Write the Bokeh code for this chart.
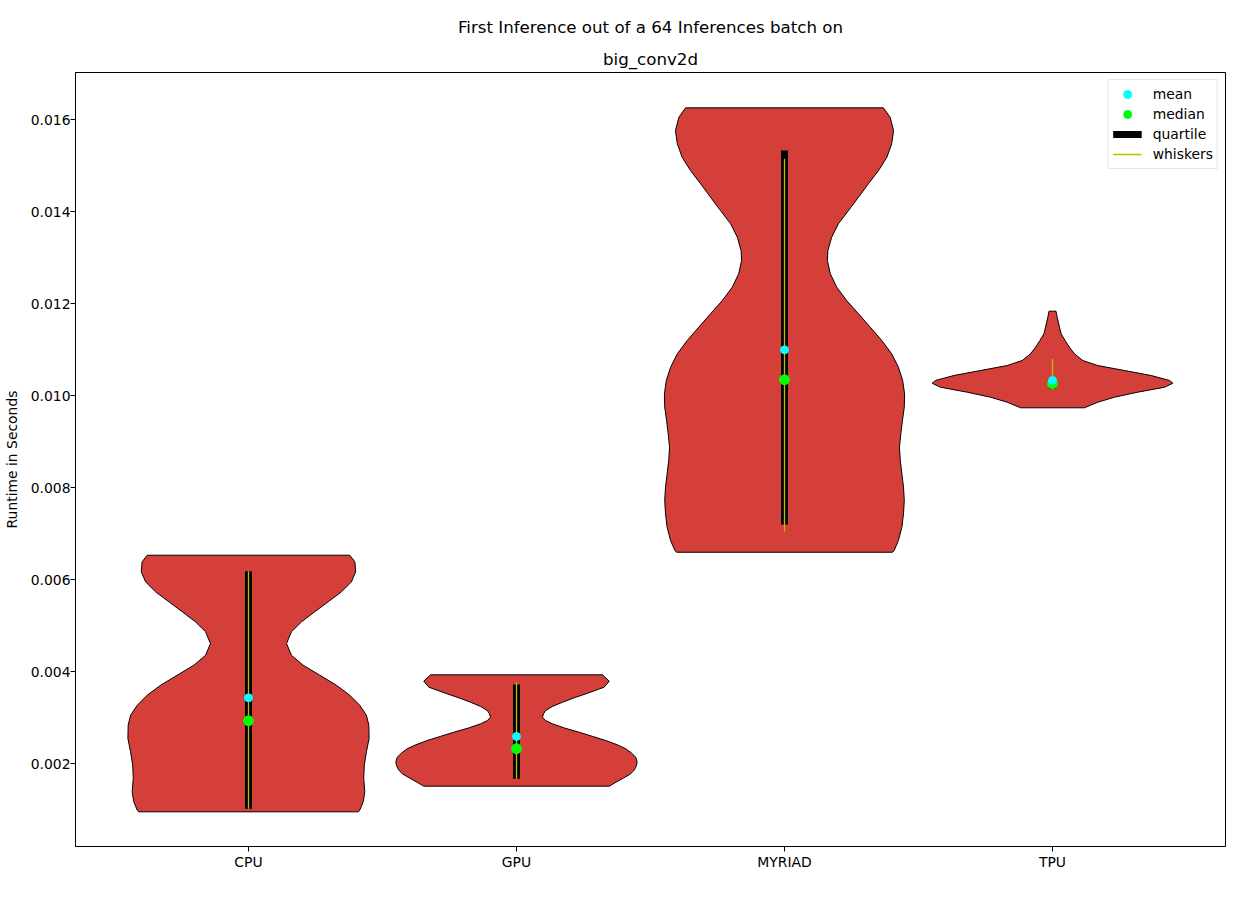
from bokeh.plotting import figure
from bokeh.models import (Legend, LegendItem, Title, FixedTicker, Range1d,
                          ColumnDataSource, NumeralTickFormatter)
from bokeh.embed import file_html
from bokeh.resources import INLINE

categories = ["CPU", "GPU", "MYRIAD", "TPU"]

# violin outlines: runtime values (s) and half-widths (category units)
cpu_y = [0.00095, 0.000985, 0.001167, 0.001385, 0.001674, 0.001963, 0.002254,
         0.002543, 0.002833, 0.00305, 0.003267, 0.003485, 0.003702, 0.00392,
         0.004137, 0.004354, 0.004609, 0.004863, 0.00508, 0.005298, 0.005515,
         0.005733, 0.00595, 0.006167, 0.006385, 0.006528]
cpu_w = [0.410, 0.415, 0.428, 0.434, 0.430, 0.432, 0.440, 0.450, 0.449, 0.440,
         0.415, 0.378, 0.328, 0.266, 0.204, 0.160, 0.142, 0.160, 0.198, 0.247,
         0.297, 0.347, 0.384, 0.400, 0.397, 0.378]

gpu_y = [0.001507, 0.001593, 0.001683, 0.001776, 0.001863, 0.001957, 0.002043,
         0.002137, 0.002228, 0.00232, 0.002409, 0.0025, 0.002589, 0.00268,
         0.002772, 0.002863, 0.002937, 0.003007, 0.003083, 0.003152, 0.003241,
         0.003333, 0.003424, 0.003515, 0.003659, 0.003789, 0.003928]
gpu_w = [0.346, 0.371, 0.399, 0.426, 0.440, 0.448, 0.450, 0.445, 0.429, 0.408,
         0.375, 0.333, 0.284, 0.234, 0.179, 0.134, 0.108, 0.097, 0.101, 0.109,
         0.134, 0.172, 0.213, 0.259, 0.327, 0.346, 0.321]

myr_y = [0.006593, 0.00663, 0.006848, 0.007137, 0.007428, 0.007717, 0.008007,
         0.008298, 0.008587, 0.008876, 0.009167, 0.009457, 0.009746, 0.010037,
         0.010326, 0.010615, 0.010907, 0.011196, 0.011485, 0.011776, 0.012065,
         0.012354, 0.012646, 0.012935, 0.013152, 0.013441, 0.013733, 0.014022,
         0.014311, 0.014602, 0.014891, 0.01518, 0.015472, 0.015761, 0.01605,
         0.016254]
myr_w = [0.403, 0.409, 0.425, 0.438, 0.444, 0.447, 0.444, 0.438, 0.432, 0.429,
         0.434, 0.440, 0.447, 0.448, 0.441, 0.425, 0.400, 0.363, 0.320, 0.276,
         0.232, 0.195, 0.171, 0.160, 0.162, 0.176, 0.201, 0.239, 0.276, 0.313,
         0.351, 0.382, 0.400, 0.407, 0.394, 0.369]

tpu_y = [0.009733, 0.009854, 0.009963, 0.010072, 0.01018, 0.010267, 0.010326,
         0.010435, 0.010543, 0.010652, 0.010761, 0.010907, 0.01105, 0.011196,
         0.011341, 0.011485, 0.011702, 0.011833]
tpu_w = [0.119, 0.169, 0.231, 0.318, 0.418, 0.449, 0.437, 0.368, 0.269, 0.169,
         0.113, 0.082, 0.063, 0.047, 0.032, 0.026, 0.0175, 0.013]

means = [0.003428, 0.002587, 0.010993, 0.010326]
medians = [0.002928, 0.002320, 0.010341, 0.010254]
quart_lo = [0.001015, 0.001667, 0.007196, 0.010146]
quart_hi = [0.006180, 0.003717, 0.015326, 0.010289]
whisk_lo = [0.001015, 0.001667, 0.007043, 0.010167]
whisk_hi = [0.006180, 0.003767, 0.015146, 0.010798]

FONT = "DejaVu Sans"
pos = [1, 2, 3, 4]

p = figure(frame_width=1150, frame_height=774,
           min_border_left=75, min_border_right=25,
           min_border_top=72, min_border_bottom=54,
           output_backend="svg", toolbar_location=None,
           x_range=Range1d(0.3545, 4.6455), y_range=Range1d(0.000196, 0.017022))

# titles (p.title is outermost; the added one sits next to the frame)
p.title.text = "First Inference out of a 64 Inferences batch on"
p.title.align = "center"
p.title.text_font = FONT
p.title.text_font_size = "16.67px"
p.title.text_font_style = "normal"
p.title.text_color = "black"
p.title.standoff = 16
sub = Title(text="big_conv2d", align="center", text_font=FONT,
            text_font_size="16.67px", text_font_style="normal",
            text_color="black", standoff=7)
p.add_layout(sub, "above")

# violins
xs, ys = [], []
for c, vy, vw in zip(pos, [cpu_y, gpu_y, myr_y, tpu_y], [cpu_w, gpu_w, myr_w, tpu_w]):
    right = [c + w for w in vw]
    left = [c - w for w in vw][::-1]
    xs.append(right + left)
    ys.append(list(vy) + list(vy)[::-1])
p.patches(xs, ys, fill_color="#d43f3a", line_color="black", line_width=1,
          line_join="round")

src = ColumnDataSource(dict(x=pos, mean=means, median=medians, qlo=quart_lo,
                            qhi=quart_hi, wlo=whisk_lo, whi=whisk_hi))
q = p.segment(x0="x", y0="qlo", x1="x", y1="qhi", source=src, line_color="black",
              line_width=7, line_cap="butt")
w = p.segment(x0="x", y0="wlo", x1="x", y1="whi", source=src, line_color="#bfbf00",
              line_width=1.3)
md = p.scatter(x="x", y="median", source=src, size=10, fill_color="#00ff00",
               line_color="#00ff00")
mn = p.scatter(x="x", y="mean", source=src, size=8, fill_color="#00ffff",
               line_color="#00ffff")

legend = Legend(items=[LegendItem(label="mean", renderers=[mn]),
                       LegendItem(label="median", renderers=[md]),
                       LegendItem(label="quartile", renderers=[q]),
                       LegendItem(label="whiskers", renderers=[w])],
                location="top_right", margin=7, padding=4, spacing=0,
                label_height=20, glyph_height=20, glyph_width=29, label_standoff=11,
                label_text_font=FONT, label_text_font_size="13.9px",
                label_text_color="black",
                border_line_color="#cccccc", background_fill_alpha=0.8)
p.add_layout(legend)

# axes
p.xgrid.visible = False
p.ygrid.visible = False
p.outline_line_color = "black"
p.outline_line_alpha = 1

p.xaxis.ticker = FixedTicker(ticks=pos)
p.xaxis.major_label_overrides = {i: c for i, c in zip(pos, categories)}
p.yaxis.ticker = FixedTicker(ticks=[0.002, 0.004, 0.006, 0.008, 0.010, 0.012, 0.014, 0.016])
p.yaxis.formatter = NumeralTickFormatter(format="0.000")
p.yaxis.axis_label = "Runtime in Seconds"
for ax in (p.xaxis, p.yaxis):
    ax.axis_line_color = "black"
    ax.major_tick_line_color = "black"
    ax.major_tick_in = 0
    ax.major_tick_out = 5
    ax.minor_tick_line_color = None
    ax.major_label_text_font = FONT
    ax.major_label_text_font_size = "13.9px"
    ax.major_label_text_color = "black"
    ax.axis_label_text_font = FONT
    ax.axis_label_text_font_size = "13.9px"
    ax.axis_label_text_font_style = "normal"
    ax.axis_label_text_color = "black"
p.xaxis.major_label_standoff = 2
p.yaxis.major_label_standoff = 0
p.yaxis.axis_label_standoff = 8

open("out.html", "w").write(file_html(p, INLINE))
